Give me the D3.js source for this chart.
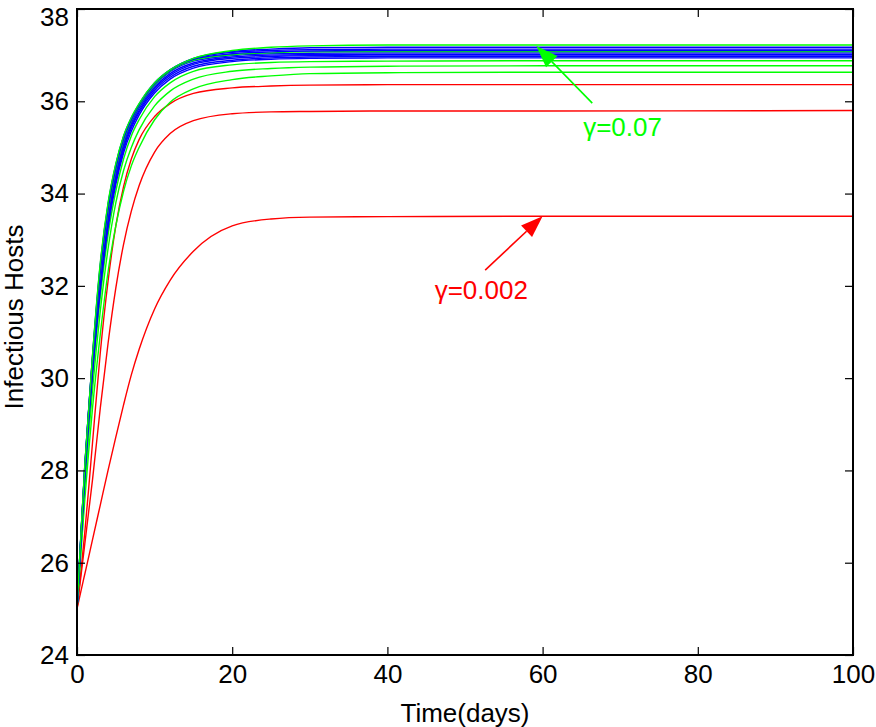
<!DOCTYPE html>
<html><head><meta charset="utf-8">
<script src="https://cdn.jsdelivr.net/npm/d3@7"></script>
<style>body{margin:0;background:#fff}svg{display:block}text{font-family:"Liberation Sans",Arial,sans-serif}</style>
</head><body><svg id="c" width="876" height="727"></svg>
<script>
const times = [0,0.5,1,1.5,2,3,4,5,6,7,8,10,12,15,20,25,30,40,60,100];
const xTicks = [0,20,40,60,80,100];
const yTicks = [24,26,28,30,32,34,36,38];
const seriesColors = ["red","red","red","green","green","green","blue","blue","blue","blue","blue","green","blue","blue","blue","green"];
const r1 = [25,25.38,25.75,26.12,26.5,27.25,28.0,28.72,29.42,30.07,30.62,31.5,32.12,32.75,33.3,33.45,33.49,33.5,33.51,33.51];
const r2 = [25,25.7,26.4,27.1,27.8,29.35,30.75,31.95,32.9,33.62,34.17,34.9,35.3,35.58,35.73,35.77,35.78,35.79,35.79,35.8];
const r3 = [25,25.8,26.65,27.6,28.6,30.55,32.1,33.3,34.15,34.75,35.17,35.67,35.95,36.17,36.29,36.33,36.35,36.36,36.36,36.36];
const g1 = [25,26.2,27.35,28.4,29.35,30.95,32.3,33.3,34.05,34.6,35.0,35.6,35.98,36.27,36.47,36.55,36.6,36.62,36.63,36.63];
const g2 = [25,26.3,27.6,28.75,29.75,31.45,32.8,33.8,34.5,35.0,35.38,35.9,36.22,36.48,36.65,36.71,36.74,36.76,36.77,36.77];
const g3 = [25,26.4,27.75,28.95,30.0,31.75,33.1,34.05,34.75,35.25,35.6,36.1,36.4,36.65,36.79,36.84,36.86,36.87,36.88,36.88];
const b1 = [25,26.45,27.85,29.05,30.1,31.9,33.25,34.2,34.88,35.35,35.7,36.18,36.48,36.72,36.86,36.91,36.93,36.94,36.94,36.94];
const b2 = [25,26.48,27.9,29.12,30.18,31.98,33.33,34.27,34.95,35.42,35.76,36.23,36.52,36.76,36.89,36.94,36.96,36.97,36.97,36.97];
const b3 = [25,26.5,27.95,29.18,30.25,32.05,33.4,34.33,35.0,35.47,35.8,36.27,36.56,36.8,36.93,36.97,36.99,37.0,37.0,37.0];
const b4 = [25,26.52,27.98,29.22,30.3,32.12,33.47,34.4,35.06,35.52,35.85,36.31,36.6,36.83,36.96,37.0,37.01,37.02,37.02,37.02];
const b5 = [25,26.54,28.01,29.26,30.35,32.2,33.55,34.46,35.11,35.56,35.89,36.35,36.64,36.87,36.99,37.03,37.04,37.05,37.05,37.05];
const g4 = [25,26.56,28.04,29.28,30.4,32.3,33.62,34.52,35.15,35.58,35.9,36.36,36.66,36.89,37.01,37.05,37.07,37.08,37.08,37.08];
const b6 = [25,26.57,28.06,29.3,30.43,32.35,33.67,34.56,35.18,35.6,35.92,36.38,36.67,36.91,37.03,37.07,37.09,37.1,37.1,37.1];
const b7 = [25,26.58,28.08,29.32,30.46,32.42,33.73,34.6,35.22,35.62,35.93,36.39,36.68,36.92,37.06,37.1,37.12,37.13,37.13,37.13];
const b8 = [25,26.59,28.09,29.31,30.48,32.46,33.77,34.63,35.24,35.64,35.94,36.4,36.68,36.93,37.08,37.13,37.16,37.17,37.17,37.17];
const g5 = [25,26.6,28.1,29.3,30.5,32.5,33.8,34.65,35.25,35.65,35.95,36.4,36.68,36.93,37.1,37.17,37.2,37.22,37.22,37.22];
const seriesValues = [r1,r2,r3,g1,g2,g3,b1,b2,b3,b4,b5,g4,b6,b7,b8,g5];
const annotations = [
  {label:"γ=0.07", color:"#00ff00", t:59.2, v:37.2, from:[66.4,35.96], textT:70.3, textV:35.45},
  {label:"γ=0.002", color:"#ff0000", t:60.0, v:33.51, from:[52.6,32.34], textT:52.1, textV:31.9}
];

const colorMap = {red:"#ff0000", green:"#00ff00", blue:"#0000ff"};
const svg = d3.select("#c");
const L=77,R=853,T=9,B=655;
const x = d3.scaleLinear().domain([0,100]).range([L,R]);
const y = d3.scaleLinear().domain([24,38]).range([B,T]);

const line = d3.line().x((d,i)=>x(times[i])).y(d=>y(d)).curve(d3.curveMonotoneX);
svg.append("g").selectAll("path").data(seriesValues).join("path")
  .attr("d", d=>line(d)).attr("fill","none")
  .attr("stroke",(d,i)=>colorMap[seriesColors[i]]).attr("stroke-width",1.4);

// axes
const fs = 26;
const ax = svg.append("g");
ax.append("g").attr("transform",`translate(0,${B})`)
  .call(d3.axisBottom(x).tickValues(xTicks).tickSize(-8).tickPadding(10).tickFormat(d3.format("d")));
ax.append("g").attr("transform",`translate(0,${T})`)
  .call(d3.axisTop(x).tickValues(xTicks).tickSize(-8).tickFormat(""));
const yAx = ax.append("g").attr("transform",`translate(${L},0)`)
  .call(d3.axisLeft(y).tickValues(yTicks).tickSize(-8).tickPadding(8).tickFormat(d3.format("d")));
ax.append("g").attr("transform",`translate(${R},0)`)
  .call(d3.axisRight(y).tickValues(yTicks).tickSize(-8).tickFormat(""));
ax.selectAll(".domain").remove();
ax.selectAll(".tick line").attr("stroke","#000").attr("stroke-width",1.2);
ax.selectAll(".tick text").attr("font-size",fs).attr("fill","#000").attr("font-family","Liberation Sans, Arial, sans-serif");
// keep the top label inside the picture
yAx.selectAll(".tick text").filter(d=>d===38).attr("dy","0.62em");
svg.append("rect").attr("x",L).attr("y",T).attr("width",R-L).attr("height",B-T)
  .attr("fill","none").attr("stroke","#000").attr("stroke-width",2);

svg.append("text").attr("x",(L+R)/2).attr("y",722).attr("text-anchor","middle")
  .attr("font-size",fs).text("Time(days)");
svg.append("text").attr("transform",`translate(23,${(T+B)/2-15}) rotate(-90)`).attr("text-anchor","middle")
  .attr("font-size",fs).text("Infectious Hosts");

// annotations
annotations.forEach(a=>{
  const x0=x(a.from[0]), y0=y(a.from[1]), x1=x(a.t), y1=y(a.v);
  const ang=Math.atan2(y1-y0,x1-x0), hl=22, hw=8;
  const bx=x1-hl*Math.cos(ang), by=y1-hl*Math.sin(ang);
  svg.append("line").attr("x1",x0).attr("y1",y0).attr("x2",bx).attr("y2",by)
    .attr("stroke",a.color).attr("stroke-width",1.6);
  const px=-Math.sin(ang), py=Math.cos(ang);
  svg.append("path").attr("d",`M${x1},${y1}L${bx+hw*px},${by+hw*py}L${bx-hw*px},${by-hw*py}Z`)
    .attr("fill",a.color);
  svg.append("text").attr("x",x(a.textT)).attr("y",y(a.textV)+9).attr("text-anchor","middle")
    .attr("font-size",fs).attr("fill",a.color).text(a.label);
});
</script></body></html>
